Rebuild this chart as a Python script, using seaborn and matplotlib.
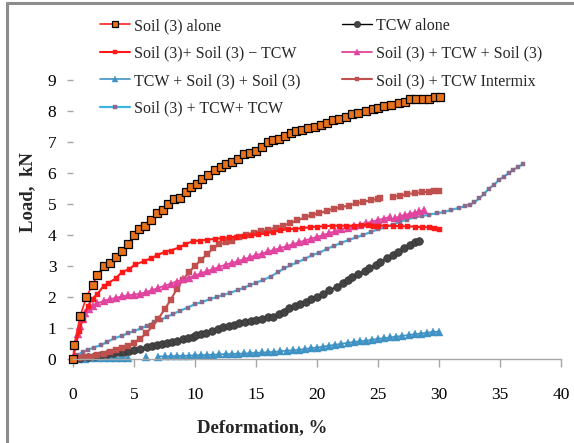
import numpy as np
import pandas as pd
import matplotlib
matplotlib.use("Agg")
import matplotlib.pyplot as plt
from matplotlib.lines import Line2D
import seaborn as sns

nan = np.nan

# ---------------- data ----------------
soil_alone_x = [0, 0.1, 0.6, 1.1, 1.6, 2.0, 2.5, 3.0, 3.5, 4.0, 4.5, 5.0, 5.4, 5.9, 6.4, 6.9, 7.4, 7.8, 8.3, 8.8,
                9.3, 9.7, 10.2, 10.6, 11.1, 11.6, 12.1, 12.5, 13.0, 13.5, 14.0, 14.5, 15.0, 15.5, 16.0, 16.4, 16.9,
                17.4, 17.9, 18.3, 18.8, 19.3, 19.8, 20.3, 20.8, 21.3, 21.8, 22.4, 22.9, 23.4, 24.0, 24.6, 25.0, 25.5,
                26.1, 26.7, 27.2, 27.6, 28.1, 28.7, 29.2, 29.7, 30.1]
soil_alone_y = [0, 0.45, 1.4, 2.0, 2.4, 2.7, 3.0, 3.1, 3.3, 3.5, 3.7, 4.0, 4.2, 4.3, 4.5, 4.7, 4.8, 5.0, 5.15, 5.2,
                5.4, 5.55, 5.65, 5.8, 5.95, 6.1, 6.2, 6.3, 6.35, 6.45, 6.6, 6.65, 6.7, 6.85, 7.0, 7.05, 7.1, 7.2, 7.3,
                7.35, 7.4, 7.45, 7.5, 7.55, 7.6, 7.7, 7.75, 7.8, 7.9, 7.95, 8.0, 8.05, 8.1, 8.15, 8.2, 8.25, 8.3, 8.4,
                8.4, 8.4, 8.4, 8.45, 8.45]

tcw_alone_x = [0, 0.6, 1.2, 1.8, 2.3, 2.8, 3.3, 3.8, 4.2, 4.6, 5.0, 5.5, 6.1, 6.5, 6.9, 7.3, 7.7, 8.1, 8.5, 9.0,
               9.4, 9.8, 10.1, 10.5, 10.9, 11.4, 11.9, 12.3, 12.8, 13.2, 13.6, 14.1, 14.6, 15.0, 15.5, 16.0, 16.4,
               16.9, 17.3, 17.7, 18.2, 18.6, 19.1, 19.5, 20.0, 20.5, 21.0, 21.6, 22.1, 22.5, 22.9, 23.4, 23.9, 24.3,
               24.8, 25.2, 25.7, 26.2, 26.6, 27.1, 27.6, 28.0, 28.4]
tcw_alone_y = [0, 0.02, 0.05, 0.09, 0.13, 0.16, 0.18, 0.21, 0.24, 0.26, 0.29, 0.33, 0.38, 0.42, 0.45, 0.49, 0.53,
               0.56, 0.59, 0.63, 0.67, 0.72, 0.77, 0.81, 0.85, 0.91, 0.97, 1.02, 1.07, 1.11, 1.15, 1.19, 1.23, 1.26,
               1.3, 1.34, 1.37, 1.45, 1.53, 1.63, 1.7, 1.78, 1.85, 1.92, 2.0, 2.1, 2.22, 2.33, 2.45, 2.55, 2.65,
               2.74, 2.83, 2.92, 3.02, 3.12, 3.25, 3.35, 3.45, 3.57, 3.68, 3.76, 3.82]

soil_soil_tcw_x = [0, 0.2, 0.5, 0.8, 1.2, 1.6, 2.0, 2.5, 2.9, 3.5, 4.0, 4.6, 5.1, 5.8, 6.4, 6.9, 7.5, 8.0, 8.7, 9.2,
                   9.8, 10.4, 11.0, 11.6, 12.2, 12.8, 13.4, 14.0, 14.6, 15.2, 15.8, 16.4, 17.0, 17.6, 18.2, 18.8,
                   19.4, 20.0, 20.6, 21.2, 21.8, 22.4, 23.0, 23.6, 24.2, 24.6, nan, 25.0, 25.6, 26.2, 26.8, 27.4,
                   28.0, 28.6, 29.2, 29.6, 30.0]
soil_soil_tcw_y = [0, 0.4, 0.9, 1.3, 1.7, 1.95, 2.1, 2.35, 2.45, 2.6, 2.8, 2.9, 3.05, 3.15, 3.25, 3.35, 3.45, 3.5,
                   3.6, 3.7, 3.8, 3.82, 3.85, 3.87, 3.9, 3.92, 3.95, 3.97, 4.0, 4.02, 4.05, 4.1, 4.15, 4.18, 4.2,
                   4.22, 4.25, 4.27, 4.28, 4.3, 4.3, 4.3, 4.3, 4.32, 4.32, 4.3, nan, 4.3, 4.3, 4.3, 4.28, 4.28, 4.27,
                   4.25, 4.25, 4.22, 4.2]

soil_tcw_soil_x = [0, 0.2, 0.4, 0.6, 0.8, 1.0, 1.3, 1.6, 2.0, 2.5, 3.0, 3.5, 4.0, 4.5, 5.0, 5.5, 6.0, 6.5, 7.0, 7.5,
                   8.0, 8.5, 9.0, 9.5, 10.0, 10.5, 11.0, 11.5, 12.0, 12.5, 13.0, 13.5, 14.0, 14.5, 15.0, 15.5, 16.0,
                   16.5, 17.0, 17.5, 18.0, 18.5, 19.0, 19.5, 20.0, 20.5, 21.0, 21.5, 22.0, 22.5, 23.0, 23.5, 24.0,
                   24.5, 25.0, 25.5, 26.0, nan, 26.4, 26.8, 27.2, 27.6, 28.0, 28.4, 28.8]
soil_tcw_soil_y = [0, 0.5, 0.8, 1.05, 1.3, 1.5, 1.62, 1.7, 1.8, 1.87, 1.93, 1.97, 2.02, 2.05, 2.08, 2.1, 2.16, 2.22,
                   2.3, 2.36, 2.43, 2.5, 2.57, 2.62, 2.7, 2.76, 2.84, 2.9, 2.98, 3.04, 3.1, 3.15, 3.22, 3.28, 3.35,
                   3.4, 3.47, 3.52, 3.58, 3.64, 3.7, 3.76, 3.82, 3.88, 3.94, 4.0, 4.06, 4.12, 4.18, 4.24, 4.28, 4.33,
                   4.38, 4.43, 4.48, 4.53, 4.59, nan, 4.54, 4.6, 4.65, 4.68, 4.72, 4.76, 4.8]

tcw_soil_soil_x = [0, 0.5, 1.0, 1.5, 2.0, 2.5, 3.0, 3.5, 4.0, 4.5, nan, 6.0, nan, 7.0, 7.5, 8.0, 8.5, 9.0, 9.5, 10.0,
                   10.5, 11.0, 11.5, 12.0, 12.5, 13.0, 13.5, 14.0, 14.5, 15.0, 15.5, 16.0, 16.5, 17.0, 17.5, 18.0,
                   18.5, 19.0, 19.5, 20.0, 20.5, 21.0, 21.5, 22.0, 22.5, 23.0, 23.5, 24.0, 24.5, 25.0, 25.5, 26.0,
                   26.5, 27.0, 27.5, 28.0, 28.5, 29.0, 29.5, 30.0]
tcw_soil_soil_y = [0, 0.01, 0.01, 0.02, 0.02, 0.02, 0.03, 0.03, 0.03, 0.03, nan, 0.06, nan, 0.08, 0.09, 0.09, 0.1,
                   0.1, 0.11, 0.12, 0.13, 0.13, 0.14, 0.15, 0.16, 0.16, 0.17, 0.18, 0.19, 0.2, 0.21, 0.22, 0.23,
                   0.25, 0.27, 0.28, 0.3, 0.32, 0.35, 0.37, 0.4, 0.43, 0.46, 0.49, 0.52, 0.55, 0.57, 0.59, 0.62,
                   0.65, 0.67, 0.7, 0.72, 0.75, 0.77, 0.8, 0.82, 0.85, 0.87, 0.88]

intermix_x = [0, 0.5, 1.0, 1.5, 2.0, 2.5, 3.0, 3.5, 4.0, 4.5, 5.0, 5.5, 6.0, 6.5, 7.0, 7.5, 8.0, 8.5, 9.0, 9.5, 10.0,
              10.5, 11.0, 11.5, 12.0, 12.5, 13.0, 13.6, 14.2, 14.8, 15.4, 16.0, 16.6, 17.2, 17.8, 18.4, 19.0, 19.6,
              20.2, 20.8, 21.4, 22.0, 22.6, 23.2, 23.8, 24.4, 25.0, 25.2, nan, 26.2, 26.8, 27.4, 28.0, 28.6, 29.2,
              29.6, 30.0]
intermix_y = [0, 0.02, 0.05, 0.08, 0.12, 0.17, 0.22, 0.28, 0.34, 0.42, 0.52, 0.65, 0.83, 1.05, 1.3, 1.6, 1.9, 2.25,
              2.55, 2.8, 3.0, 3.2, 3.38, 3.58, 3.7, 3.76, 3.8, 3.92, 4.0, 4.08, 4.12, 4.17, 4.24, 4.3, 4.38, 4.47,
              4.57, 4.65, 4.7, 4.78, 4.85, 4.9, 4.95, 5.02, 5.07, 5.12, 5.17, 5.18, nan, 5.23, 5.27, 5.32, 5.35,
              5.38, 5.4, 5.42, 5.43]

soil_tcw_tcw_x = [0, 0.35, 0.8, 1.2, 1.7, 2.3, 2.8, 3.4, 4.0, 4.5, 5.0, 5.6, 6.1, 6.6, 7.2, 7.7, 8.2, 8.8, 9.4, 10.0,
                  10.6, 11.2, 11.8, 12.3, 12.9, 13.5, 14.0, 14.5, 15.0, 15.6, 16.2, 16.8, 17.3, 17.8, 18.4, 19.0,
                  19.6, 20.2, 20.8, 21.4, 22.0, 22.6, 23.2, 23.8, 24.4, 25.0, 25.6, 26.2, 26.8, 27.4, 28.0, 28.6,
                  29.2, 29.8, 30.4, 31.0, 31.6, 32.1, 32.5, 32.9, 33.3, 33.7, 34.1, 34.5, 34.9, 35.3, 35.7, 36.1,
                  36.5, 36.9]
soil_tcw_tcw_y = [0, 0.13, 0.22, 0.29, 0.37, 0.45, 0.55, 0.67, 0.75, 0.83, 0.9, 0.99, 1.08, 1.18, 1.27, 1.36, 1.45,
                  1.56, 1.66, 1.77, 1.84, 1.93, 2.0, 2.06, 2.14, 2.22, 2.3, 2.38, 2.46, 2.55, 2.66, 2.8, 2.92, 3.02,
                  3.12, 3.23, 3.35, 3.43, 3.55, 3.65, 3.75, 3.84, 3.92, 4.0, 4.1, 4.18, 4.25, 4.33, 4.43, 4.5, 4.57,
                  4.61, 4.66, 4.7, 4.74, 4.81, 4.87, 4.92, 4.98, 5.05, 5.18, 5.33, 5.5, 5.62, 5.77, 5.88, 5.99, 6.1,
                  6.2, 6.29]

labels = ["Soil (3) alone", "TCW alone", "Soil (3)+ Soil (3) \u2212 TCW", "Soil (3) + TCW + Soil (3)",
          "TCW + Soil (3) + Soil (3)", "Soil (3) + TCW Intermix", "Soil (3) + TCW+ TCW"]
x_ticks = [0, 5, 10, 15, 20, 25, 30, 35, 40]
y_ticks = [0, 1, 2, 3, 4, 5, 6, 7, 8, 9]

# ---------------- styling ----------------
sns.set_style("white")
plt.rcParams["font.family"] = ["Liberation Serif", "DejaVu Serif"]

styles = {
    labels[0]: dict(color="#FF2020", marker="s", ms=5.6, mfc="#E8711C", mec="#000000", mew=0.9, lw=1.2, lms=4.5),
    labels[1]: dict(color="#000000", marker="o", ms=5.5, mfc="#444444", mec="#333333", mew=0.5, lw=1.0, lms=4.5),
    labels[2]: dict(color="#FF1A1A", marker="s", ms=3.6, mfc="#FF1A1A", mec="#FF1A1A", mew=0.3, lw=1.5, lms=3),
    labels[3]: dict(color="#E0449E", marker="^", ms=6, mfc="#E0449E", mec="#E0449E", mew=0.3, lw=1.3, lms=4),
    labels[4]: dict(color="#3F93C4", marker="^", ms=5.2, mfc="#3F93C4", mec="#3F93C4", mew=0.3, lw=1.2, lms=4),
    labels[5]: dict(color="#C0504D", marker="s", ms=4.0, mfc="#C0504D", mec="#C0504D", mew=0.3, lw=1.5, lms=3),
    labels[6]: dict(color="#3CB4E8", marker="s", ms=2.6, mfc="#8A6A88", mec="#8A6A88", mew=0.3, lw=1.6, lms=2.5),
}
series = {
    labels[0]: (soil_alone_x, soil_alone_y),
    labels[1]: (tcw_alone_x, tcw_alone_y),
    labels[2]: (soil_soil_tcw_x, soil_soil_tcw_y),
    labels[3]: (soil_tcw_soil_x, soil_tcw_soil_y),
    labels[4]: (tcw_soil_soil_x, tcw_soil_soil_y),
    labels[5]: (intermix_x, intermix_y),
    labels[6]: (soil_tcw_tcw_x, soil_tcw_tcw_y),
}

W, H = 574, 443
fig = plt.figure(figsize=(W / 100, H / 100), dpi=100)
ax = fig.add_axes([73 / W, 1 - 359 / H, 488 / W, 279 / H])

draw_order = [labels[4], labels[1], labels[6], labels[5], labels[3], labels[2], labels[0]]
for name in draw_order:
    xs, ys = series[name]
    df = pd.DataFrame({"x": xs, "y": ys})
    df["seg"] = df["x"].isna().cumsum()
    df = df.dropna()
    st = styles[name]
    sns.lineplot(data=df, x="x", y="y", units="seg", estimator=None, sort=False, ax=ax,
                 color=st["color"], lw=st["lw"], marker=st["marker"], markersize=st["ms"],
                 markerfacecolor=st["mfc"], markeredgecolor=st["mec"], markeredgewidth=st["mew"],
                 clip_on=False, legend=False)

ax.set_xlim(0, 40)
ax.set_ylim(0, 9)
ax.set_xticks(x_ticks)
ax.set_yticks(y_ticks)
ax.set_xticklabels([str(v) for v in x_ticks])
ax.set_yticklabels([str(v) for v in y_ticks])
ax.set_xlabel("")
ax.set_ylabel("")
for s in ["top", "right", "left"]:
    ax.spines[s].set_visible(False)
ax.spines["bottom"].set_color("#A6A6A6")
ax.spines["bottom"].set_linewidth(1.0)
ax.tick_params(axis="x", direction="out", length=6, width=1, color="#A6A6A6", pad=14,
               labelsize=12.5, labelcolor="#000000", bottom=True)
ax.tick_params(axis="y", direction="out", length=4, width=1, color="#A6A6A6", pad=8,
               labelsize=12.5, labelcolor="#000000", left=True)
ax.grid(False)

fig.text(262 / W, 1 - 428 / H, "Deformation, %", ha="center", va="center",
         fontsize=13.5, fontweight="bold")
fig.text(28 / W, 1 - 192 / H, "Load,  kN", ha="center", va="center", rotation=90,
         fontsize=13.5, fontweight="bold")

# legend (two columns, filled column-wise)
order = [labels[0], labels[2], labels[4], labels[6], labels[1], labels[3], labels[5]]
handles = []
for name in order:
    st = styles[name]
    handles.append(Line2D([], [], color=st["color"], lw=st["lw"], marker=st["marker"],
                          markersize=st["lms"], markerfacecolor=st["mfc"],
                          markeredgecolor=st["mec"], markeredgewidth=st["mew"]))
fig.legend(handles, order, loc="upper left", bbox_to_anchor=(100 / W, 1 - 18 / H), ncol=2,
           frameon=False, fontsize=11.5, handlelength=1.9, handletextpad=0.25, columnspacing=2.55,
           labelspacing=0.72, borderpad=0, borderaxespad=0)

# gray frame edges (top and left)
fig.add_artist(Line2D([7 / W, 1], [1 - 2.5 / H, 1 - 2.5 / H], transform=fig.transFigure,
                      color="#8C8C8C", lw=2.2))
fig.add_artist(Line2D([7 / W, 7 / W], [0, 1 - 2.5 / H], transform=fig.transFigure,
                      color="#8C8C8C", lw=2.2))

fig.savefig("out.png", dpi=100)
